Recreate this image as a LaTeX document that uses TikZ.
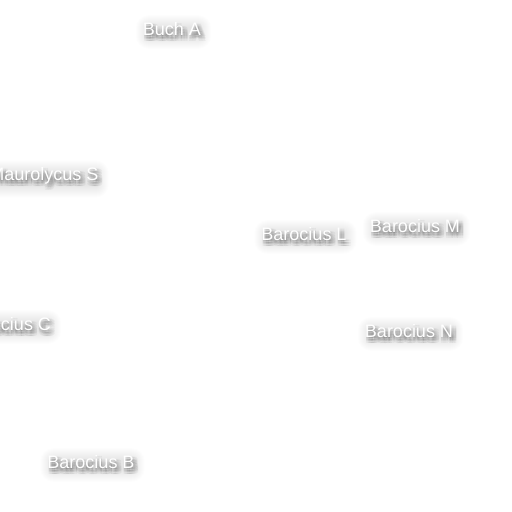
\documentclass[tikz,border=0pt]{standalone}
\usepackage{fontspec}
\setmainfont{Liberation Sans}
\usetikzlibrary{backgrounds}

\tikzset{
  lbl/.style={font=\fontsize{18}{18}\selectfont, text=white, inner sep=0pt},
  shad/.style={lbl, text=black, opacity=0.045},
  glow/.style={fill=black, opacity=0.009}
}
% crater label: name, position, text
\newcommand\craterlabel[3]{%
  \foreach \dx in {0,1.6,...,5}
    \foreach \dy in {1,2.6,...,6}
      \node[shad] at ([shift={(\dx,\dy)}]#2) {#3};
  \node[lbl] (#1) at (#2) {#3};
  \begin{pgfonlayer}{background}
    \foreach \r in {-3,...,9}
      \fill[glow, rounded corners=\r pt+4pt]
        ([shift={(-\r+2,-\r+2)}]#1.north west) rectangle ([shift={(\r+1,\r+4)}]#1.south east);
  \end{pgfonlayer}
}

\begin{document}
\begin{tikzpicture}[x=1pt,y=-1pt]
  \useasboundingbox (0,0) rectangle (512,512);
  \clip (0,0) rectangle (512,512);
  \begin{pgfonlayer}{background}
    \fill[white] (0,0) rectangle (512,512);
  \end{pgfonlayer}

  \craterlabel{buchA}{172,29}{Buch A}
  \craterlabel{maurS}{44,176}{Maurolycus S}
  \craterlabel{barL}{304,234}{Barocius L}
  \craterlabel{barM}{415,226}{Barocius M}
  \craterlabel{barC}{7,324}{Barocius C}
  \craterlabel{barN}{409,331}{Barocius N}
  \craterlabel{barB}{91,462}{Barocius B}
\end{tikzpicture}
\end{document}
